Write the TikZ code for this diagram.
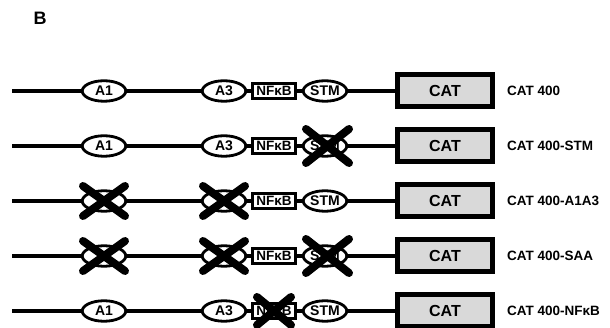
\documentclass[tikz,border=0pt]{standalone}
\usepackage{fontspec}
\setmainfont{Liberation Sans}
\usetikzlibrary{calc,shapes.geometric}
\begin{document}
\begin{tikzpicture}[x=1pt,y=-1pt,
  dna/.style={line width=4pt},
  elem/.style={ellipse, draw, line width=2.8pt, minimum width=43.5pt, minimum height=20.5pt, inner sep=0pt, fill=white, font=\bfseries\fontsize{14}{14}\selectfont},
  nfbox/.style={rectangle, draw, line width=2.6pt, minimum width=43.5pt, minimum height=14.5pt, inner sep=0pt, fill=white, font=\bfseries\fontsize{13.5}{13.5}\selectfont},
  catbox/.style={rectangle, draw, line width=5pt, fill=black!15, minimum width=95pt, minimum height=32pt, inner sep=0pt, font=\bfseries\fontsize{16}{16}\selectfont},
  lab/.style={anchor=west, inner sep=0pt, font=\bfseries\fontsize{13.5}{13.5}\selectfont},
  xmark/.style={line width=8pt, line cap=round}
]
\useasboundingbox (0,0) rectangle (610,328);
\node[font=\bfseries\fontsize{18}{18}\selectfont] (B) at (40,18) {B};
\foreach \r/\y/\lab/\ca/\cb/\cn/\cs in {
  1/91/{CAT 400}/0/0/0/0,
  2/146/{CAT 400-STM}/0/0/0/1,
  3/201/{CAT 400-A1A3}/1/1/0/0,
  4/256/{CAT 400-SAA}/1/1/0/1,
  5/311/{CAT 400-NFκB}/0/0/1/0}{
  \coordinate (s-\r) at (12,\y);
  \node[elem] (a1-\r) at (104,\y) {\ifnum\ca=0 A1\fi};
  \node[elem] (a3-\r) at (224,\y) {\ifnum\cb=0 A3\fi};
  \node[nfbox] (nf-\r) at (274,\y) {NFκB};
  \node[elem] (stm-\r) at (325,\y) {STM};
  \node[catbox] (cat-\r) at (445,\y) {CAT};
  \node[lab] (lab-\r) at (507,\y) {\lab};
  \draw[dna] (s-\r) -- (a1-\r.west) (a1-\r.east) -- (a3-\r.west)
    (a3-\r.east) -- (nf-\r.west) (nf-\r.east) -- (stm-\r.west)
    (stm-\r.east) -- (cat-\r.west);
  \ifnum\ca=1
    \draw[xmark] ($(a1-\r.center)+(-21,-15)$) -- ($(a1-\r.center)+(21,15)$)
                 ($(a1-\r.center)+(-21,15)$) -- ($(a1-\r.center)+(21,-15)$);
  \fi
  \ifnum\cb=1
    \draw[xmark] ($(a3-\r.center)+(-21,-15)$) -- ($(a3-\r.center)+(21,15)$)
                 ($(a3-\r.center)+(-21,15)$) -- ($(a3-\r.center)+(21,-15)$);
  \fi
  \ifnum\cn=1
    \draw[xmark] ($(nf-\r.center)+(-17,-14)$) -- ($(nf-\r.center)+(17,14)$)
                 ($(nf-\r.center)+(-17,14)$) -- ($(nf-\r.center)+(17,-14)$);
  \fi
  \ifnum\cs=1
    \draw[xmark] ($(stm-\r.center)+(-19,-17)$) -- ($(stm-\r.center)+(24,17)$)
                 ($(stm-\r.center)+(-19,17)$) -- ($(stm-\r.center)+(24,-17)$);
  \fi
}
\end{tikzpicture}
\end{document}
